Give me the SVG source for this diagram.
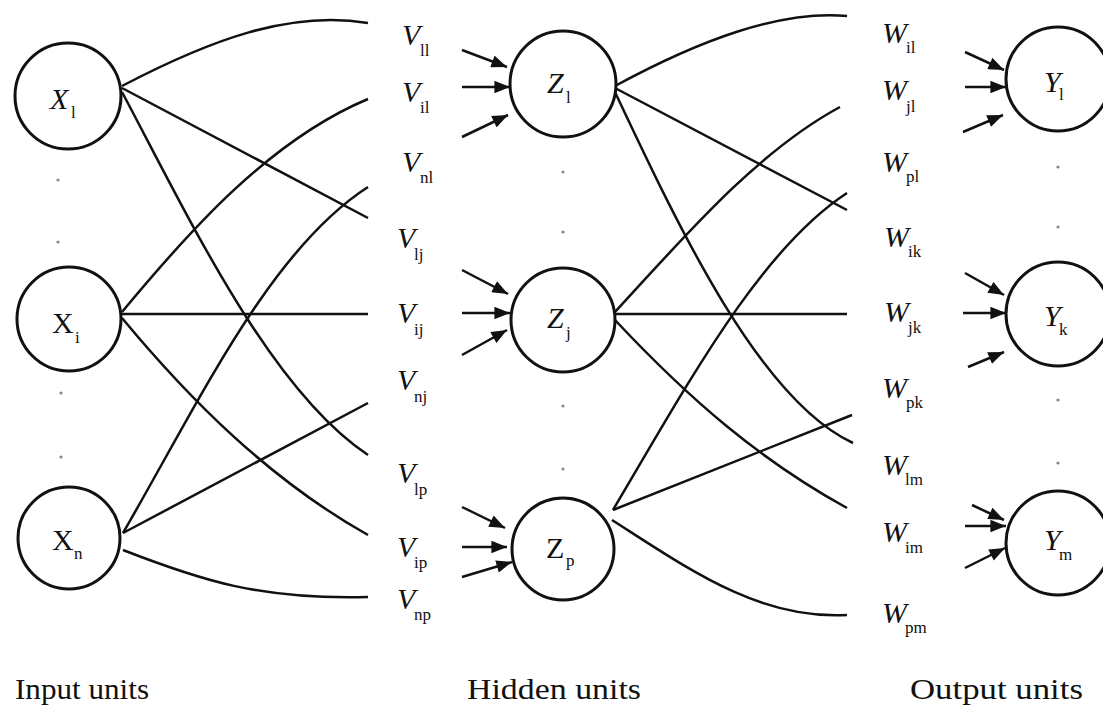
<svg xmlns="http://www.w3.org/2000/svg" width="1103" height="709" viewBox="0 0 1103 709">
<style>
.node{fill:#fff;stroke:#111;stroke-width:3}
.c{fill:none;stroke:#111;stroke-width:2.5}
.a{fill:none;stroke:#111;stroke-width:2.5}
.dot{fill:#888}
</style>
<defs>
<marker id="ah" viewBox="0 0 10 8" refX="10" refY="4" markerWidth="6.5" markerHeight="5" orient="auto" markerUnits="strokeWidth">
<path d="M0,0 L10,4 L0,8 Z" fill="#111"/>
</marker>
</defs>
<rect width="1103" height="709" fill="#fff"/>

<g id="connectors">
<path class="c" d="M122,86 C210,40 290,10 368,23"/>
<path class="c" d="M122,88 L368,218"/>
<path class="c" d="M122,92 C190,220 270,390 368,455"/>
<path class="c" d="M122,312 C190,230 270,140 368,99"/>
<path class="c" d="M122,314 L368,314"/>
<path class="c" d="M122,318 C190,400 270,480 368,535"/>
<path class="c" d="M123,533 C200,400 270,250 368,187"/>
<path class="c" d="M123,533 L368,403"/>
<path class="c" d="M123,550 C200,580 260,600 368,597"/>

<path class="c" d="M615,86 C700,40 780,10 847,16"/>
<path class="c" d="M615,88 L847,210"/>
<path class="c" d="M615,92 C680,230 760,400 853,443"/>
<path class="c" d="M615,312 C690,230 760,150 840,107"/>
<path class="c" d="M615,314 L847,314"/>
<path class="c" d="M615,320 C690,400 760,460 847,508"/>
<path class="c" d="M613,510 C690,380 760,250 847,193"/>
<path class="c" d="M613,510 L852,415"/>
<path class="c" d="M612,520 C690,570 760,620 847,615"/>

<path class="a" marker-end="url(#ah)" d="M462,50 L507,67"/>
<path class="a" marker-end="url(#ah)" d="M462,87 L510,87"/>
<path class="a" marker-end="url(#ah)" d="M462,137 L508,115"/>
<path class="a" marker-end="url(#ah)" d="M462,270 L508,294"/>
<path class="a" marker-end="url(#ah)" d="M462,313 L510,313"/>
<path class="a" marker-end="url(#ah)" d="M462,355 L507,330"/>
<path class="a" marker-end="url(#ah)" d="M462,507 L505,528"/>
<path class="a" marker-end="url(#ah)" d="M462,547 L507,547"/>
<path class="a" marker-end="url(#ah)" d="M462,577 L512,562"/>

<path class="a" marker-end="url(#ah)" d="M965,52 L1004,70"/>
<path class="a" marker-end="url(#ah)" d="M965,87 L1006,87"/>
<path class="a" marker-end="url(#ah)" d="M963,132 L1003,115"/>
<path class="a" marker-end="url(#ah)" d="M965,273 L1004,295"/>
<path class="a" marker-end="url(#ah)" d="M963,313 L1006,313"/>
<path class="a" marker-end="url(#ah)" d="M968,367 L1004,352"/>
<path class="a" marker-end="url(#ah)" d="M972,505 L1004,520"/>
<path class="a" marker-end="url(#ah)" d="M965,526 L1006,526"/>
<path class="a" marker-end="url(#ah)" d="M965,568 L1005,548"/>
</g>

<g id="dots">
<circle class="dot" cx="58" cy="180" r="1.6"/>
<circle class="dot" cx="58" cy="242" r="1.6"/>
<circle class="dot" cx="61" cy="393" r="1.6"/>
<circle class="dot" cx="61" cy="457" r="1.6"/>
<circle class="dot" cx="563" cy="172" r="1.6"/>
<circle class="dot" cx="563" cy="232" r="1.6"/>
<circle class="dot" cx="563" cy="406" r="1.6"/>
<circle class="dot" cx="563" cy="469" r="1.6"/>
<circle class="dot" cx="1058" cy="167" r="1.6"/>
<circle class="dot" cx="1058" cy="227" r="1.6"/>
<circle class="dot" cx="1058" cy="400" r="1.6"/>
<circle class="dot" cx="1058" cy="463" r="1.6"/>
</g>

<g font-family="Liberation Serif, serif" fill="#111">
<g id="node-x1"><circle class="node" cx="68" cy="96" r="53"/><text font-style="italic" font-size="30" x="50" y="109">X</text><text font-size="17" x="71" y="118">l</text></g>
<g id="node-xi"><circle class="node" cx="69" cy="319" r="52"/><text font-size="30" x="52" y="333">X</text><text font-size="17" x="75" y="343">i</text></g>
<g id="node-xn"><circle class="node" cx="69" cy="538" r="51"/><text font-size="30" x="52" y="550">X</text><text font-size="17" x="74" y="559">n</text></g>

<g id="node-z1"><circle class="node" cx="563" cy="84" r="53"/><text font-style="italic" font-size="30" x="547" y="93">Z</text><text font-size="17" x="566" y="103">l</text></g>
<g id="node-zj"><circle class="node" cx="563" cy="320" r="52"/><text font-style="italic" font-size="30" x="547" y="328">Z</text><text font-size="17" x="566" y="338">j</text></g>
<g id="node-zp"><circle class="node" cx="563" cy="549" r="51"/><text font-size="30" x="546" y="558">Z</text><text font-size="17" x="566" y="566">p</text></g>

<g id="node-y1"><circle class="node" cx="1058" cy="79" r="52"/><text font-style="italic" font-size="30" x="1044" y="92">Y</text><text font-size="17" x="1059" y="100">l</text></g>
<g id="node-yk"><circle class="node" cx="1058" cy="314" r="52"/><text font-style="italic" font-size="30" x="1044" y="326">Y</text><text font-size="17" x="1059" y="335">k</text></g>
<g id="node-ym"><circle class="node" cx="1058" cy="543" r="52"/><text font-style="italic" font-size="30" x="1044" y="550">Y</text><text font-size="17" x="1059" y="560">m</text></g>

<g id="v-labels" font-size="17">
<text font-style="italic" font-size="30" x="402" y="45">V</text><text x="420" y="56">ll</text>
<text font-style="italic" font-size="30" x="402" y="102">V</text><text x="420" y="113">il</text>
<text font-style="italic" font-size="30" x="402" y="172">V</text><text x="420" y="183">nl</text>
<text font-style="italic" font-size="30" x="397" y="248">V</text><text x="414" y="260">lj</text>
<text font-style="italic" font-size="30" x="397" y="323">V</text><text x="414" y="335">ij</text>
<text font-style="italic" font-size="30" x="397" y="390">V</text><text x="414" y="402">nj</text>
<text font-style="italic" font-size="30" x="397" y="483">V</text><text x="414" y="495">lp</text>
<text font-style="italic" font-size="30" x="397" y="557">V</text><text x="414" y="568">ip</text>
<text font-style="italic" font-size="30" x="397" y="609">V</text><text x="414" y="620">np</text>
</g>

<g id="w-labels" font-size="17">
<text font-style="italic" font-size="30" x="882" y="43">W</text><text x="906" y="53">il</text>
<text font-style="italic" font-size="30" x="882" y="100">W</text><text x="906" y="112">jl</text>
<text font-style="italic" font-size="30" x="882" y="172">W</text><text x="906" y="182">pl</text>
<text font-style="italic" font-size="30" x="884" y="247">W</text><text x="908" y="257">ik</text>
<text font-style="italic" font-size="30" x="884" y="322">W</text><text x="908" y="333">jk</text>
<text font-style="italic" font-size="30" x="882" y="398">W</text><text x="906" y="408">pk</text>
<text font-style="italic" font-size="30" x="882" y="475">W</text><text x="905" y="485">lm</text>
<text font-style="italic" font-size="30" x="882" y="542">W</text><text x="905" y="553">im</text>
<text font-style="italic" font-size="30" x="882" y="623">W</text><text x="905" y="633">pm</text>
</g>

<g id="captions" font-size="29">
<text x="15" y="699" textLength="134" lengthAdjust="spacingAndGlyphs">Input units</text>
<text x="467" y="699" textLength="174" lengthAdjust="spacingAndGlyphs">Hidden units</text>
<text x="910" y="699" textLength="173" lengthAdjust="spacingAndGlyphs">Output units</text>
</g>
</g>
</svg>
